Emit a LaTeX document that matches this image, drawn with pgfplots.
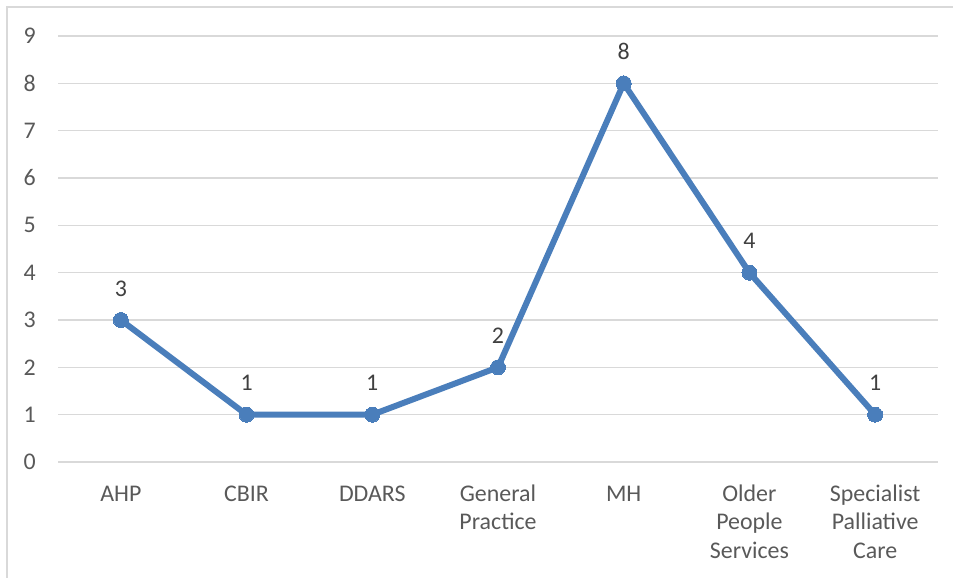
\documentclass[border=0pt]{standalone}
\usepackage{pgfplots}
\pgfplotsset{compat=1.18}
\usepackage{fontspec}
\setmainfont{Carlito}

\definecolor{lineblue}{HTML}{4A7EBB}
\definecolor{gridgray}{HTML}{D9D9D9}
\definecolor{labelgray}{HTML}{595959}

\begin{document}
\begin{tikzpicture}
\useasboundingbox (-58bp,-116bp) rectangle (895bp,462bp);
% chart area frame (only left and top edges fall inside the picture)
\draw[gridgray, line width=2bp] (-51bp,-120bp) -- (-51bp,455bp) -- (900bp,455bp);
\begin{axis}[
    scale only axis,
    width=880bp, height=426bp,
    at={(0,0)}, anchor=south west,
    xmin=-0.5, xmax=6.5,
    ymin=0, ymax=9,
    xtick={0,1,2,3,4,5,6},
    xticklabels={\strut AHP, \strut CBIR, \strut DDARS, \strut General\\Practice, \strut MH,
        \strut Older\\People\\Services, \strut Specialist\\Palliative\\Care},
    ytick={0,1,2,3,4,5,6,7,8,9},
    axis line style={draw=none},
    tick style={draw=none},
    ymajorgrids=true,
    grid style={gridgray, line width=1.5bp},
    /pgf/number format/assume math mode=true,
    every tick label/.append style={font=\fontsize{24}{28.8}\selectfont, text=labelgray},
    xticklabel style={anchor=north, inner sep=0pt, yshift=-19bp, align=center},
    yticklabel style={anchor=east, inner sep=0pt, xshift=-22bp},
    clip=false,
]
\addplot[
    color=lineblue,
    line width=6bp,
    mark=*,
    mark size=7.5bp,
    mark options={fill=lineblue, draw=lineblue, line width=0pt},
    nodes near coords,
    every node near coord/.append style={anchor=base, inner sep=0pt, yshift=24bp,
        font=\fontsize{24}{28.8}\selectfont, text=black!75},
    ]
    coordinates {
(0,3)(1,1)(2,1)(3,2)(4,8)(5,4)(6,1)
    };
\end{axis}
\end{tikzpicture}
\end{document}
